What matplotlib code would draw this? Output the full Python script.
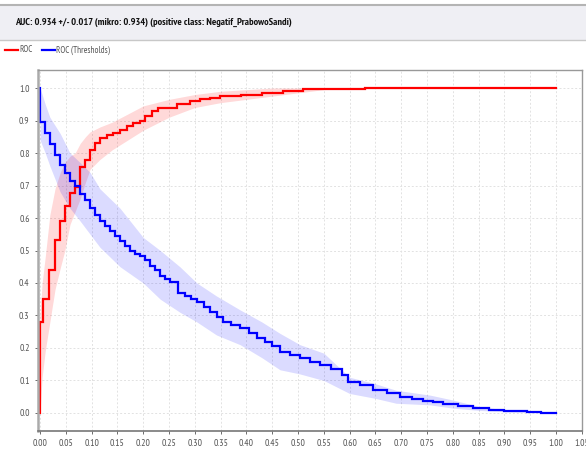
import numpy as np
import matplotlib.pyplot as plt
from matplotlib.patches import Rectangle
from matplotlib.lines import Line2D

plt.rcParams['font.family'] = ['PT Sans Narrow', 'DejaVu Sans']

title_text = 'AUC: 0.934 +/- 0.017 (mikro: 0.934) (positive class: Negatif_PrabowoSandi)'
legend_labels = ['ROC', 'ROC (Thresholds)']

# ROC curve (steps)
roc_x = [0.000, 0.000, 0.006, 0.018, 0.029, 0.039, 0.048, 0.058, 0.068, 0.078, 0.087,
         0.097, 0.107, 0.116, 0.129, 0.142, 0.155, 0.168, 0.180, 0.194, 0.203, 0.216,
         0.229, 0.265, 0.290, 0.310, 0.330, 0.349, 0.390, 0.430, 0.470, 0.510, 0.570,
         0.630, 1.000]
roc_y = [0.000, 0.280, 0.350, 0.440, 0.532, 0.592, 0.637, 0.678, 0.696, 0.756, 0.780,
         0.810, 0.830, 0.845, 0.855, 0.862, 0.872, 0.882, 0.892, 0.900, 0.915, 0.930,
         0.940, 0.950, 0.960, 0.965, 0.970, 0.975, 0.980, 0.985, 0.990, 0.996, 0.998,
         1.000, 1.000]

# ROC band
rb_x = [0.000, 0.004, 0.010, 0.019, 0.029, 0.039, 0.048, 0.058, 0.068, 0.078, 0.088,
        0.097, 0.116, 0.140, 0.170, 0.200, 0.250, 0.300, 0.350, 0.400, 0.450, 0.500,
        0.550, 0.600, 1.000]
rb_hi = [0.300, 0.400, 0.480, 0.610, 0.690, 0.740, 0.770, 0.790, 0.800, 0.830, 0.850,
         0.865, 0.880, 0.895, 0.920, 0.945, 0.965, 0.980, 0.990, 0.995, 1.000, 1.000,
         1.000, 1.000, 1.000]
rb_lo = [0.000, 0.110, 0.190, 0.280, 0.380, 0.445, 0.500, 0.580, 0.620, 0.660, 0.710,
         0.750, 0.780, 0.810, 0.840, 0.870, 0.910, 0.940, 0.955, 0.965, 0.975, 0.985,
         0.995, 1.000, 1.000]

# ROC (Thresholds) curve (steps)
thr_x = [0.000, 0.000, 0.010, 0.019, 0.029, 0.039, 0.048, 0.058, 0.068, 0.078, 0.087,
         0.097, 0.107, 0.116, 0.126, 0.136, 0.145, 0.155, 0.165, 0.175, 0.184, 0.193,
         0.203, 0.213, 0.223, 0.233, 0.243, 0.252, 0.267, 0.280, 0.292, 0.304, 0.317,
         0.329, 0.342, 0.355, 0.371, 0.388, 0.405, 0.420, 0.436, 0.450, 0.465, 0.484,
         0.504, 0.524, 0.543, 0.564, 0.585, 0.597, 0.620, 0.646, 0.672, 0.698, 0.720,
         0.742, 0.762, 0.781, 0.810, 0.839, 0.870, 0.900, 0.943, 0.970, 1.000]
thr_y = [1.000, 0.894, 0.862, 0.827, 0.794, 0.763, 0.740, 0.715, 0.698, 0.675, 0.655,
         0.630, 0.610, 0.592, 0.575, 0.560, 0.545, 0.530, 0.515, 0.500, 0.490, 0.482,
         0.470, 0.452, 0.440, 0.422, 0.412, 0.404, 0.369, 0.360, 0.352, 0.343, 0.325,
         0.310, 0.295, 0.280, 0.270, 0.260, 0.245, 0.232, 0.218, 0.205, 0.189, 0.178,
         0.169, 0.158, 0.148, 0.135, 0.117, 0.096, 0.085, 0.071, 0.060, 0.050, 0.044,
         0.038, 0.033, 0.028, 0.021, 0.014, 0.010, 0.007, 0.002, 0.001, 0.000]

# ROC (Thresholds) band
tb_x = [0.000, 0.010, 0.019, 0.039, 0.058, 0.078, 0.097, 0.116, 0.155, 0.200, 0.233,
        0.271, 0.304, 0.342, 0.388, 0.430, 0.465, 0.504, 0.550, 0.600, 0.650, 0.690,
        0.756, 0.800, 0.850, 0.900, 1.000]
tb_hi = [1.000, 0.950, 0.910, 0.860, 0.800, 0.770, 0.740, 0.690, 0.630, 0.540, 0.500,
         0.450, 0.400, 0.360, 0.317, 0.280, 0.245, 0.210, 0.184, 0.110, 0.090, 0.070,
         0.055, 0.040, 0.020, 0.010, 0.000]
tb_lo = [0.840, 0.800, 0.760, 0.680, 0.630, 0.590, 0.550, 0.510, 0.450, 0.400, 0.350,
         0.310, 0.280, 0.240, 0.210, 0.170, 0.133, 0.120, 0.100, 0.060, 0.045, 0.030,
         0.025, 0.015, 0.008, 0.004, 0.000]

x_ticks = np.round(np.arange(0, 1.051, 0.05), 2)
y_ticks = np.round(np.arange(0, 1.01, 0.1), 1)

fig = plt.figure(figsize=(5.86, 4.54), dpi=100)
W, H = 586, 454

# title bar
fig.patches.append(Rectangle((0, 1 - 40 / H), 1, 35 / H, transform=fig.transFigure,
                             facecolor='#efeff4', edgecolor='none'))
fig.lines.append(Line2D([0, 1], [1 - 5 / H, 1 - 5 / H], transform=fig.transFigure,
                        color='#b4b4b4', lw=1.5))
fig.lines.append(Line2D([0, 1], [1 - 40 / H, 1 - 40 / H], transform=fig.transFigure,
                        color='#c8c8c8', lw=1))
fig.text(15 / W, 1 - 22.5 / H, title_text, fontsize=7.4, fontweight='bold',
         va='center', ha='left', color='#111111')

# legend
leg_y = 1 - 50 / H
fig.lines.append(Line2D([5 / W, 18 / W], [leg_y, leg_y], transform=fig.transFigure, color='#ff0000', lw=1.6))
fig.text(19.5 / W, leg_y, legend_labels[0], fontsize=6.5, va='center', color='#555555')
fig.lines.append(Line2D([42 / W, 55 / W], [leg_y, leg_y], transform=fig.transFigure, color='#0000ff', lw=1.6))
fig.text(56.5 / W, leg_y, legend_labels[1], fontsize=6.5, va='center', color='#555555')

ax = fig.add_axes([38 / W, 23 / H, 544 / W, 361 / H])
ax.fill_between(rb_x, rb_lo, rb_hi, color='#ff0000', alpha=0.15, lw=0)
ax.fill_between(tb_x, tb_lo, tb_hi, color='#0000ff', alpha=0.14, lw=0)
ax.plot(roc_x, roc_y, drawstyle='steps-post', color='#ff0000', lw=1.6, solid_joinstyle='miter')
ax.plot(thr_x, thr_y, drawstyle='steps-post', color='#0000ff', lw=1.6, solid_joinstyle='miter')

ax.set_xlim(-0.004, 1.0504)
ax.set_ylim(-0.0554, 1.0554)
ax.set_xticks(x_ticks)
ax.set_xticklabels([f'{v:.2f}' for v in x_ticks])
ax.set_yticks(y_ticks)
ax.set_yticklabels([f'{v:.1f}' for v in y_ticks])
ax.tick_params(labelsize=7, colors='#555555', length=2, width=0.6, pad=4)
ax.grid(color='#e2e2e2', linestyle=(0, (2, 2)), lw=0.7)
ax.set_axisbelow(True)
for s in ['top', 'right']:
    ax.spines[s].set_color('#999999')
    ax.spines[s].set_linewidth(1.0)
ax.spines['left'].set_color('#aaaaaa')
ax.spines['left'].set_linewidth(1.8)
ax.spines['bottom'].set_color('#777777')
ax.spines['bottom'].set_linewidth(1.2)

fig.savefig('out.png', dpi=100)
